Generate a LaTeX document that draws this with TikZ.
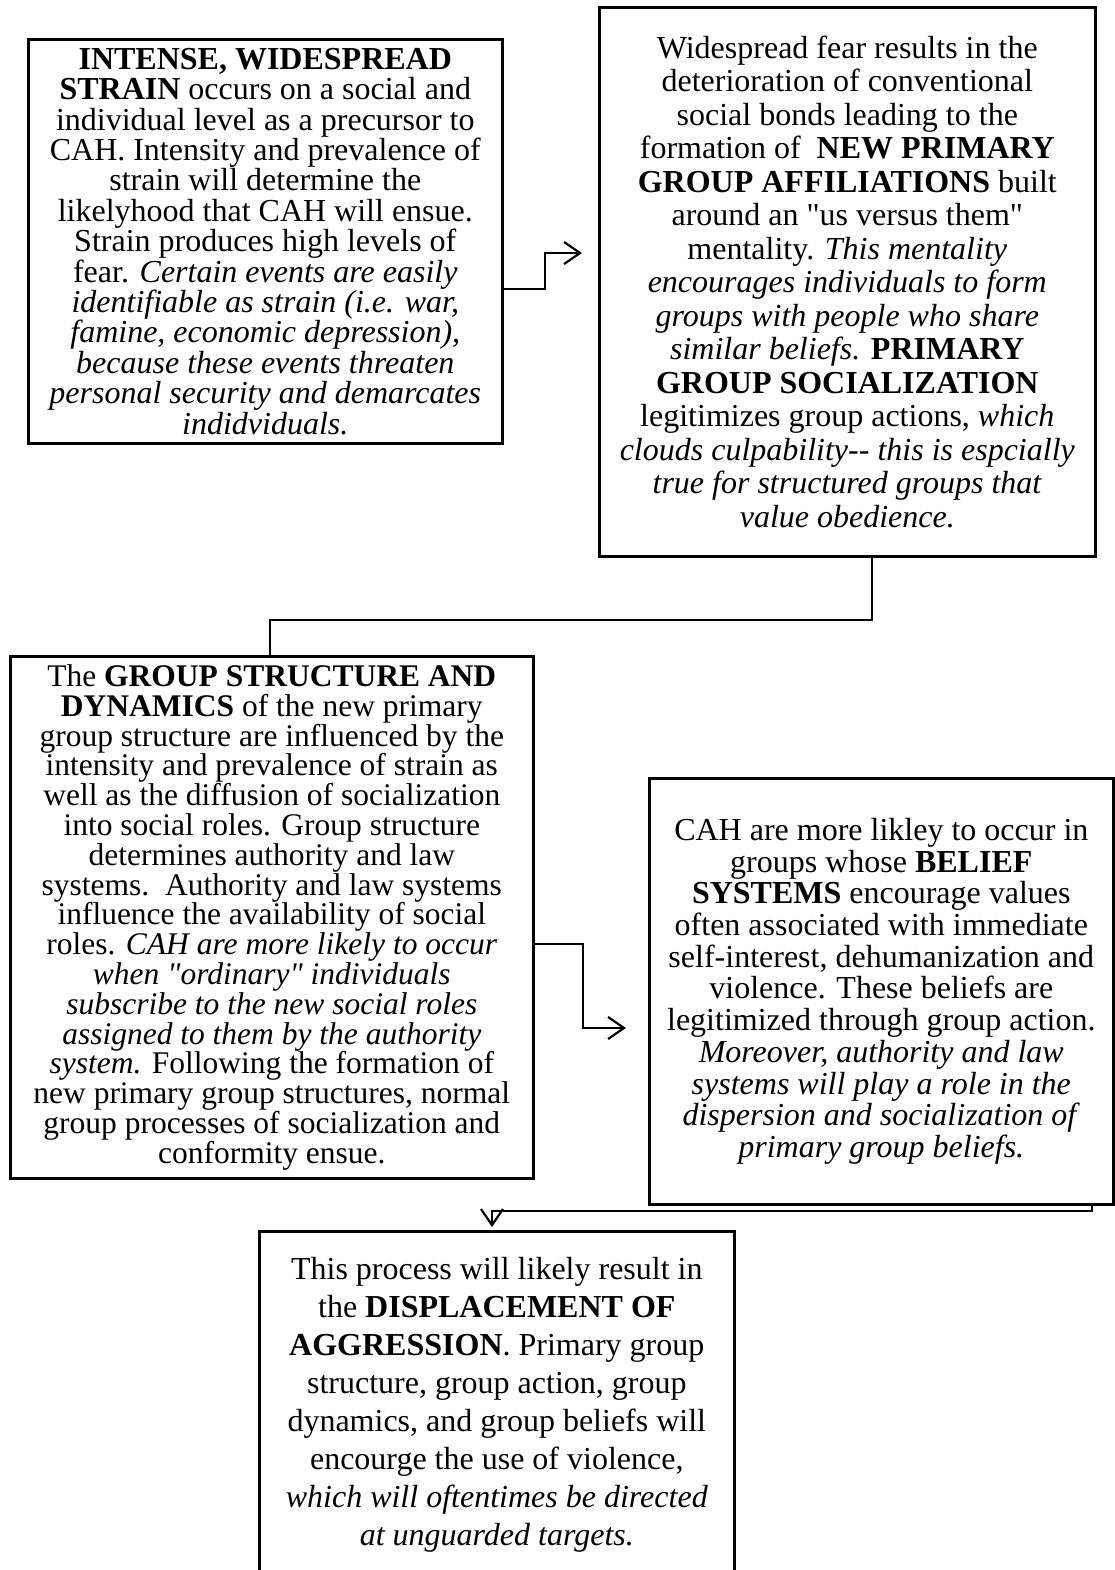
\documentclass[tikz,border=0pt]{standalone}
\usepackage{fontspec}
\setmainfont{Liberation Serif}[Ligatures=TeXOff]
\usetikzlibrary{arrows.meta}

\begin{document}
\begin{tikzpicture}[x=1pt,y=-1pt,
    stage/.style={draw, line width=2.6pt, anchor=north west,
        inner sep=0pt, align=center,
        font=\fontsize{32}{31}\selectfont},
    link/.style={line width=2.2pt},
    flow/.style={link,
        -{Straight Barb[length=16pt,width=22pt,line width=2.2pt]}}]
    \useasboundingbox (0,0) rectangle (1114,1570);
    % the five stages
    \node[stage,
        font=\fontsize{32}{30.4}\selectfont,
        minimum width=474pt,
        minimum height=404pt
        ] (strain) at (27,38) {\textbf{INTENSE, WIDESPREAD}\\
        \textbf{STRAIN} occurs on a social and\\
        individual level as a precursor to\\
        CAH. Intensity and prevalence of\\
        strain will determine the\\
        likelyhood that CAH will ensue.\\
        Strain produces high levels of\\
        fear. \textit{Certain events are easily}\\
        \textit{identifiable as strain (i.e. war,}\\
        \textit{famine, economic depression),}\\
        \textit{because these events threaten}\\
        \textit{personal security and demarcates}\\
        \textit{indidviduals.}};
    \node[stage,
        font=\fontsize{32}{33.5}\selectfont,
        minimum width=496pt,
        minimum height=549pt
        ] (affil) at (598,6) {Widespread fear results in the\\
        deterioration of conventional\\
        social bonds leading to the\\
        formation of\ \ \textbf{NEW PRIMARY}\\
        \textbf{GROUP AFFILIATIONS} built\\
        around an "us versus them"\\
        mentality. \textit{This mentality}\\
        \textit{encourages individuals to form}\\
        \textit{groups with people who share}\\
        \textit{similar beliefs.} \textbf{PRIMARY}\\
        \textbf{GROUP SOCIALIZATION}\\
        legitimizes group actions, \textit{which}\\
        \textit{clouds culpability-- this is espcially}\\
        \textit{true for structured groups that}\\
        \textit{value obedience.}};
    \node[stage,
        font=\fontsize{31.5}{29.8}\selectfont,
        minimum width=523pt,
        minimum height=522pt
        ] (dynamics) at (9,655) {The \textbf{GROUP STRUCTURE AND}\\
        \textbf{DYNAMICS} of the new primary\\
        group structure are influenced by the\\
        intensity and prevalence of strain as\\
        well as the diffusion of socialization\\
        into social roles. Group structure\\
        determines authority and law\\
        systems.\ \ Authority and law systems\\
        influence the availability of social\\
        roles. \textit{CAH are more likely to occur}\\
        \textit{when "ordinary" individuals}\\
        \textit{subscribe to the new social roles}\\
        \textit{assigned to them by the authority}\\
        \textit{system.} Following the formation of\\
        new primary group structures, normal\\
        group processes of socialization and\\
        conformity ensue.};
    \node[stage,
        font=\fontsize{32}{31.7}\selectfont,
        minimum width=464pt,
        minimum height=426pt
        ] (beliefs) at (648,777) {CAH are more likley to occur in\\
        groups whose \textbf{BELIEF}\\
        \textbf{SYSTEMS} encourage values\\
        often associated with immediate\\
        self-interest, dehumanization and\\
        violence. These beliefs are\\
        legitimized through group action.\\
        \textit{Moreover, authority and law}\\
        \textit{systems will play a role in the}\\
        \textit{dispersion and socialization of}\\
        \textit{primary group beliefs.}};
    \node[stage,
        font=\fontsize{32}{38}\selectfont,
        minimum width=475pt,
        minimum height=346pt
        ] (aggression) at (258,1230) {This process will likely result in\\
        the \textbf{DISPLACEMENT OF}\\
        \textbf{AGGRESSION}. Primary group\\
        structure, group action, group\\
        dynamics, and group beliefs will\\
        encourge the use of violence,\\
        \textit{which will oftentimes be directed}\\
        \textit{at unguarded targets.}};

    % elbows of the connectors
    \coordinate (k1) at (545,289);
    \coordinate (tip1) at (582,253);
    \coordinate (k2) at (872,620);
    \coordinate (k3) at (270,620);
    \coordinate (k4) at (583,944);
    \coordinate (tip4) at (626,1028);
    \coordinate (k5) at (1092,1211);
    \coordinate (tip5) at (492,1227);

    \draw[flow] (strain.east |- k1) -- (k1) |- (tip1);
    \draw[link] (affil.south -| k2) -- (k2) -- (k3) -- (dynamics.north -| k3);
    \draw[flow] (dynamics.east |- k4) -- (k4) |- (tip4);
    \draw[flow] (beliefs.south -| k5) -- (k5) -| (tip5);
\end{tikzpicture}
\end{document}
